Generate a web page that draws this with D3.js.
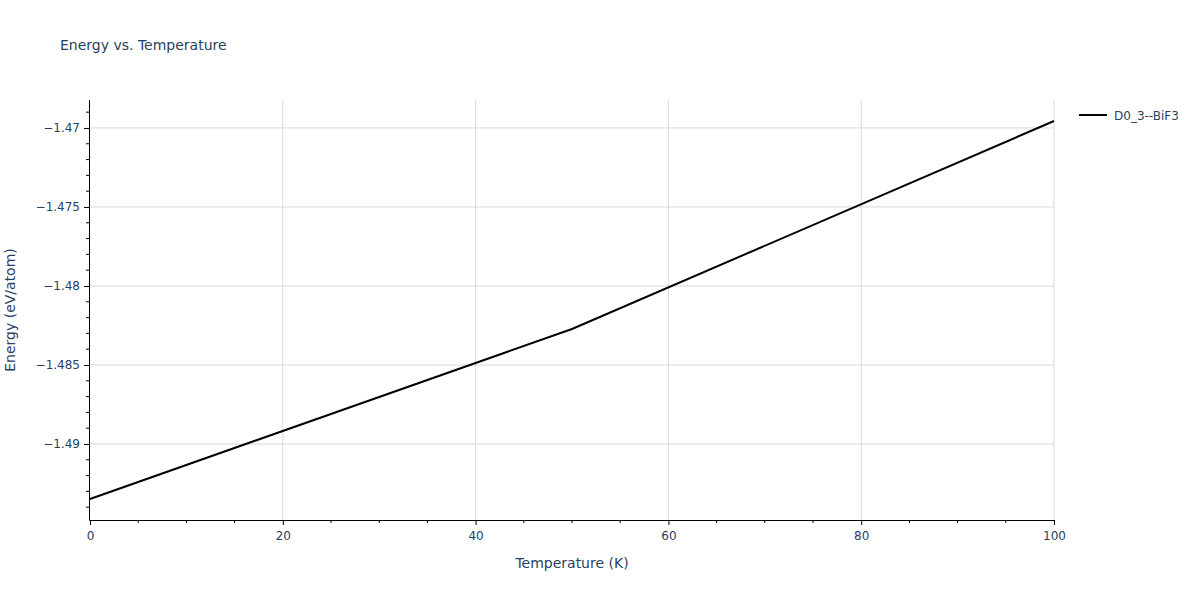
<!DOCTYPE html>
<html><head><meta charset="utf-8">
<script src="https://cdn.jsdelivr.net/npm/d3@7/dist/d3.min.js"></script>
<style>body{margin:0;background:#fff;} text{font-family:"DejaVu Sans",Verdana,sans-serif;}</style>
</head><body><svg id="c" width="1200" height="600"></svg>
<script>
const seriesName = "D0_3--BiF3";
const temperatures = [0, 50, 100];
const energies = [-1.49348, -1.48272, -1.46956];
const xTicks = [0, 20, 40, 60, 80, 100];
const yTicks = [-1.49, -1.485, -1.48, -1.475, -1.47];

const svg = d3.select("#c");
const L = 90, R = 1054, T = 100, B = 520;
const x = d3.scaleLinear().domain([0, 100]).range([L, R]);
const y = d3.scaleLinear().domain([-1.49481, -1.46823]).range([B, T]);
const fc = "#2a3f5f";
const minus = v => d3.format("")(v).replace("-", "\u2212");

// grid
svg.append("g").selectAll("line").data(xTicks.slice(1)).join("line")
  .attr("x1", d => x(d)).attr("x2", d => x(d)).attr("y1", T).attr("y2", B)
  .attr("stroke", "#d9d9d9").attr("stroke-width", 1);
svg.append("g").selectAll("line").data(yTicks).join("line")
  .attr("x1", L).attr("x2", R).attr("y1", d => y(d)).attr("y2", d => y(d))
  .attr("stroke", "#d9d9d9").attr("stroke-width", 1);

// x axis
const xMinor = d3.range(0, 101, 5).filter(v => v % 20 !== 0);
const xa = svg.append("g").attr("transform", `translate(0,${B})`)
  .call(d3.axisBottom(x).tickValues(xTicks).tickSize(5).tickPadding(6).tickFormat(d3.format("d")));
xa.select(".domain").attr("stroke", "#000").attr("d", `M${L-0.5},0.5H${R}`);
xa.selectAll(".tick line").attr("stroke", "#000");
xa.selectAll("text").attr("fill", fc).attr("font-size", 12);
xa.append("g").selectAll("line").data(xMinor).join("line")
  .attr("x1", d => x(d)).attr("x2", d => x(d)).attr("y1", 0).attr("y2", 3).attr("stroke", "#000");

// y axis
const yMinor = d3.range(-1.494, -1.4685, 0.001).filter(v => Math.abs(Math.round(v * 200) - v * 200) > 0.01);
const ya = svg.append("g").attr("transform", `translate(${L - 1},0)`)
  .call(d3.axisLeft(y).tickValues(yTicks).tickSize(5).tickPadding(4).tickFormat(minus));
ya.select(".domain").attr("stroke", "#000").attr("d", `M0.5,${T}V${B + 0.5}`);
ya.selectAll(".tick line").attr("stroke", "#000");
ya.selectAll("text").attr("fill", fc).attr("font-size", 12);
ya.append("g").selectAll("line").data(yMinor).join("line")
  .attr("x1", 0).attr("x2", -3).attr("y1", d => y(d)).attr("y2", d => y(d)).attr("stroke", "#000");

// line
const pts = temperatures.map((t, i) => [t, energies[i]]);
svg.append("path").datum(pts)
  .attr("d", d3.line().x(d => x(d[0])).y(d => y(d[1])))
  .attr("fill", "none").attr("stroke", "#000").attr("stroke-width", 2);

// titles
svg.append("text").attr("x", 60).attr("y", 50).attr("font-size", 14).attr("fill", fc).text("Energy vs. Temperature");
svg.append("text").attr("x", (L + R) / 2).attr("y", 568).attr("text-anchor", "middle")
  .attr("font-size", 14).attr("fill", fc).text("Temperature (K)");
svg.append("text").attr("transform", `translate(15,${(T + B) / 2}) rotate(-90)`).attr("text-anchor", "middle")
  .attr("font-size", 14).attr("fill", fc).text("Energy (eV/atom)");

// legend
svg.append("line").attr("x1", 1079).attr("x2", 1107).attr("y1", 115).attr("y2", 115)
  .attr("stroke", "#000").attr("stroke-width", 2);
svg.append("text").attr("x", 1114).attr("y", 119.5).attr("font-size", 12).attr("fill", fc).text(seriesName);
</script></body></html>
